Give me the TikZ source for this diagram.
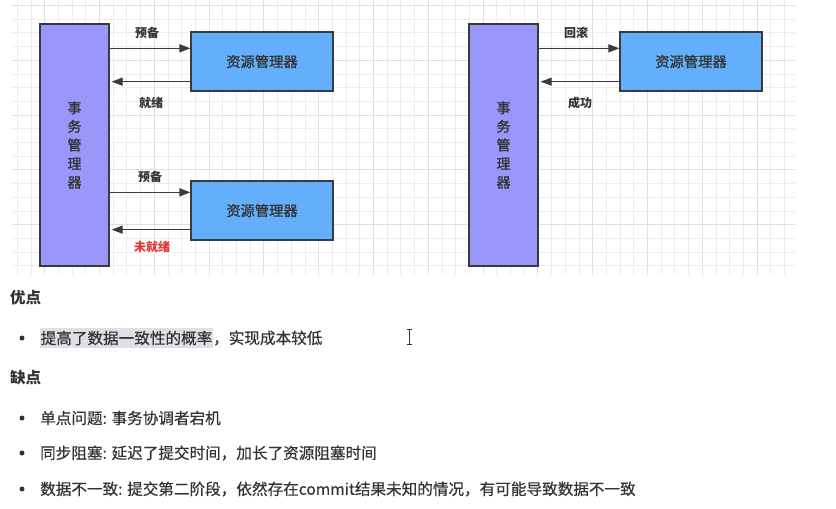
\documentclass[tikz,border=0pt]{standalone}
\usepackage{fontspec}
\setmainfont{Noto Sans CJK SC}
\newfontfamily\diafont[FakeBold=1.2]{Noto Sans CJK SC}
\newfontfamily\bodyfont[FakeBold=0.4]{Noto Sans CJK SC}
\usetikzlibrary{arrows.meta}
\definecolor{tmfill}{HTML}{9A97FA}
\definecolor{rmfill}{HTML}{63AFFB}
\definecolor{edge}{HTML}{3A3A3A}
\definecolor{txt}{HTML}{333333}
\definecolor{gridminor}{HTML}{EDEDED}
\definecolor{gridmajor}{HTML}{E0E0E0}
\definecolor{hlbg}{HTML}{DDE1E6}
\definecolor{warn}{HTML}{F0302C}
\tikzset{
  tmbox/.style={draw=edge, line width=1.3pt, fill=tmfill, minimum width=69pt, minimum height=242pt, inner sep=0pt, align=center, text=txt, font=\diafont\fontsize{14}{18.6}\selectfont},
  rmbox/.style={draw=edge, line width=1.3pt, fill=rmfill, minimum width=142pt, minimum height=59pt, inner sep=0pt, text=txt, font=\diafont\fontsize{14.3}{16}\selectfont},
  arr/.style={draw=edge, line width=1.3pt, -{Triangle[length=11pt, width=8pt]}},
  lbl/.style={text=txt, font=\fontsize{12}{14}\selectfont\bfseries, inner sep=0pt},
  body/.style={text=txt, font=\bodyfont\fontsize{15.6}{18}\selectfont, inner sep=0pt, anchor=west},
  head/.style={text=txt, font=\fontsize{15.5}{18}\selectfont\bfseries, inner sep=0pt, anchor=west},
  hl/.style={fill=hlbg, inner xsep=0.5pt, inner ysep=3pt},
  dot/.style={circle, fill=txt, inner sep=0pt, minimum size=5pt}
}
\begin{document}
\begin{tikzpicture}[x=1pt,y=-1pt]
\useasboundingbox (0,0) rectangle (836,509);
\fill[white] (0,0) rectangle (836,509);
% grid
\foreach \i in {1,...,57} {
  \pgfmathsetmacro\xx{3.5+13.7*\i}
  \pgfmathtruncatemacro\m{mod(\i,4)}
  \ifnum\m=3
    \draw[gridmajor, line width=0.8pt] (\xx,0) -- (\xx,275);
  \else
    \draw[gridminor, line width=0.7pt] (\xx,0) -- (\xx,275);
  \fi
}
\foreach \j in {0,...,19} {
  \pgfmathsetmacro\yy{5.4+13.7*\j}
  \pgfmathtruncatemacro\m{mod(\j,4)}
  \ifnum\m=0
    \draw[gridmajor, line width=0.8pt] (12,\yy) -- (795,\yy);
  \else
    \draw[gridminor, line width=0.7pt] (12,\yy) -- (795,\yy);
  \fi
}
% left diagram
\node[tmbox] (tmL) at (74.5,145) {事\\务\\管\\理\\器};
\node[rmbox] (rm1) at (262,61.5) {资源管理器};
\node[rmbox] (rm2) at (262,210.5) {资源管理器};
\coordinate (a1) at ([yshift=-17pt]rm1.north west);
\coordinate (b1) at ([yshift=10pt]rm1.south west);
\coordinate (a2) at ([yshift=-12pt]rm2.north west);
\coordinate (b2) at ([yshift=11pt]rm2.south west);
\draw[arr] (a1 -| tmL.east) -- (a1);
\draw[arr, shorten >=2pt] (b1) -- (b1 -| tmL.east);
\draw[arr] (a2 -| tmL.east) -- (a2);
\draw[arr, shorten >=2pt] (b2) -- (b2 -| tmL.east);
\node[lbl] (l1) at (147,33) {预备};
\node[lbl] (l2) at (151,103) {就绪};
\node[lbl] (l3) at (150,177) {预备};
\node[lbl, text=warn] (l4) at (152,247) {未就绪};
% right diagram
\node[tmbox] (tmR) at (503.5,145) {事\\务\\管\\理\\器};
\node[rmbox] (rm3) at (691,61.5) {资源管理器};
\coordinate (a3) at ([yshift=-17pt]rm3.north west);
\coordinate (b3) at ([yshift=10pt]rm3.south west);
\draw[arr] (a3 -| tmR.east) -- (a3);
\draw[arr, shorten >=2pt] (b3) -- (b3 -| tmR.east);
\node[lbl] (l5) at (576,33) {回滚};
\node[lbl] (l6) at (580,103) {成功};
% text part
\node[head] (h1) at (10,298) {优点};
\node[dot] (d1) at (22,338) {};
\node[body, hl] (t1a) at (40,338) {提高了数据一致性的概率};
\node[body] (t1b) at (t1a.east) {，实现成本较低};
\node[head] (h2) at (10,378) {缺点};
\node[dot] (d2) at (22,418) {};
\node[body] (t2) at (40,418) {单点问题: 事务协调者宕机};
\node[dot] (d3) at (22,453) {};
\node[body] (t3) at (40,453) {同步阻塞: 延迟了提交时间，加长了资源阻塞时间};
\node[dot] (d4) at (22,489) {};
\node[body] (t4) at (40,489) {数据不一致: 提交第二阶段，依然存在commit结果未知的情况，有可能导致数据不一致};
% text cursor
\draw[txt, line width=0.9pt] (409,329) -- (409,344);
\draw[txt, line width=0.8pt] (406.5,329) -- (411.5,329) (406.5,344) -- (411.5,344);
\end{tikzpicture}
\end{document}
